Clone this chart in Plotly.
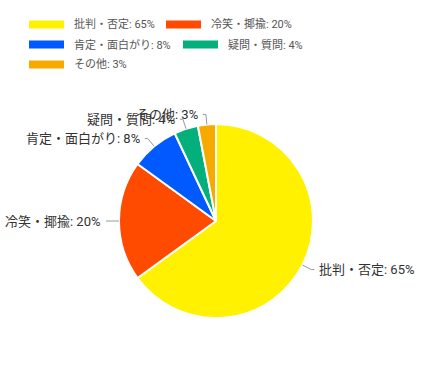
import math
import plotly.graph_objects as go

labels = ["批判・否定", "冷笑・揶揄", "肯定・面白がり", "疑問・質問", "その他"]
values = [65, 20, 8, 4, 3]
colors = ["#FFF100", "#FF4B00", "#005AFF", "#03AF7A", "#F6AA00"]

W, H = 431, 371
CX, CY, R = 216, 221, 97  # pie centre / radius in pixels (layout)
FONT = "Roboto, Noto Sans CJK JP, sans-serif"

def px(x):
    return x / W

def py(y):
    return 1 - y / H

fig = go.Figure(go.Pie(
    labels=labels, values=values, sort=False, direction="clockwise", rotation=0,
    marker=dict(colors=colors, line=dict(color="white", width=2)),
    textinfo="none", showlegend=False, hoverinfo="label+percent",
    domain=dict(x=[px(CX - R), px(CX + R)], y=[py(CY + R), py(CY - R)]),
))

shapes, annotations = [], []
total = sum(values)
cum = 0
L1, L2, GAP = 10, 3, 3
for lab, v in zip(labels, values):
    mid = (cum + v / 2) / total * 2 * math.pi
    cum += v
    dx, dy = math.sin(mid), -math.cos(mid)
    x0, y0 = CX + R * dx, CY + R * dy
    x1, y1 = CX + (R + L1) * dx, CY + (R + L1) * dy
    side = 1 if dx >= 0 else -1
    x2 = x1 + side * L2
    shapes.append(dict(type="path", xref="paper", yref="paper",
                       path=f"M{px(x0)},{py(y0)} L{px(x1)},{py(y1)} L{px(x2)},{py(y1)}",
                       line=dict(color="#999999", width=1)))
    annotations.append(dict(xref="paper", yref="paper", x=px(x2 + side * GAP), y=py(y1),
                            xanchor="left" if side > 0 else "right", yanchor="middle",
                            text=f"{lab}: {v}%", showarrow=False,
                            font=dict(family=FONT, size=13, color="#333333")))

# legend (drawn manually, rectangle swatches)
legend_pos = [(29, 24.5), (166, 24.5), (29, 44.5), (183, 44.5), (29, 64.5)]
for (lx, ly), lab, v, c in zip(legend_pos, labels, values, colors):
    shapes.append(dict(type="rect", xref="paper", yref="paper",
                       x0=px(lx), x1=px(lx + 35), y0=py(ly + 4), y1=py(ly - 4),
                       fillcolor=c, line=dict(width=0)))
    annotations.append(dict(xref="paper", yref="paper", x=px(lx + 43), y=py(ly),
                            xanchor="left", yanchor="middle", text=f"{lab}: {v}%",
                            showarrow=False, font=dict(family=FONT, size=11, color="#555555")))

fig.update_layout(width=W, height=H, margin=dict(l=0, r=0, t=0, b=0),
                  paper_bgcolor="white", plot_bgcolor="white",
                  shapes=shapes, annotations=annotations, font=dict(family=FONT))
fig.write_html("out.html")
